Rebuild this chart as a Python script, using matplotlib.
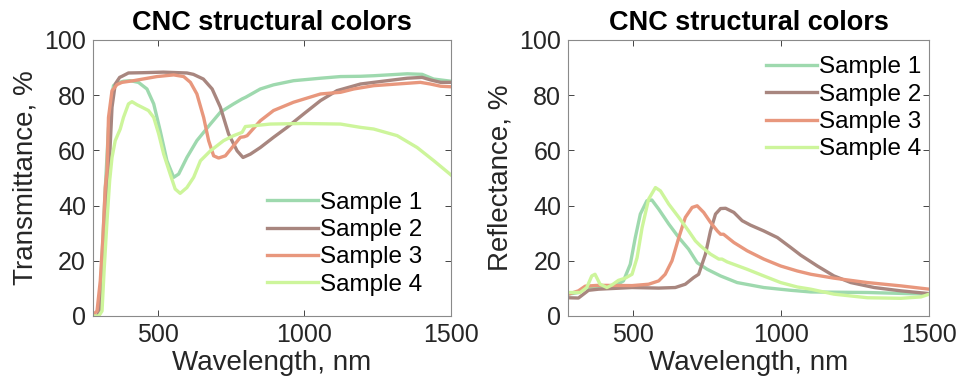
import numpy as np
import matplotlib.pyplot as plt

plt.rcParams['font.family'] = ['Liberation Sans', 'DejaVu Sans']

labels = ['Sample 1', 'Sample 2', 'Sample 3', 'Sample 4']
colors = ['#9ED9AE', '#A8867F', '#E8977D', '#CDF59B']

# Transmittance spectra (wavelength nm, %)
t1_wl = [282, 298, 305, 314, 322, 333, 345, 350, 362, 384, 407, 435, 464, 487, 509, 532, 555, 572,
         600, 634, 680, 714, 759, 788, 800, 850, 895, 963, 1055, 1123, 1191, 1236, 1350, 1401, 1440, 1500]
t1_val = [0, 0, 8, 28, 46, 68, 80, 83.4, 84.3, 85, 85.2, 84.6, 82.2, 76.8, 67.1, 56.2, 50.2, 51.4,
          57.4, 63.5, 69.5, 73.8, 76.8, 78.6, 79.2, 82.2, 83.7, 85.2, 86.1, 86.7, 86.8, 87, 87.7, 87.5, 85.8, 85]
t2_wl = [282, 298, 306, 316, 325, 333, 345, 356, 371, 379, 401, 450, 520, 600, 622, 656, 686, 714, 742,
         771, 791, 816, 850, 895, 941, 998, 1055, 1111, 1191, 1236, 1350, 1401, 1429, 1464, 1500]
t2_val = [0, 0, 5, 22, 38, 49, 75.6, 84, 86.4, 86.8, 88, 88.1, 88.3, 88, 87.5, 85.8, 82.2, 75.6, 65.9,
          59.8, 57.4, 58.6, 61, 64.7, 68.3, 73.2, 78, 81.6, 84, 84.6, 86.1, 86.4, 85.5, 84.6, 84.6]
t3_wl = [282, 294, 305, 314, 322, 328, 333, 345, 362, 379, 418, 498, 555, 589, 612, 634, 657, 674, 691,
         708, 731, 782, 795, 805, 850, 895, 963, 1055, 1123, 1168, 1236, 1395, 1429, 1464, 1500]
t3_val = [0.6, 1.8, 12.7, 28.4, 46.5, 52.6, 71.9, 81.6, 83.8, 84.6, 85.2, 86.7, 87.3, 86.7, 84.6, 80.4, 71.9,
          63.5, 58, 57.2, 58, 64.7, 64.9, 65.3, 70.7, 74.4, 77.4, 80.4, 81, 82.2, 83.4, 84.6, 84, 83.2, 83]
t4_wl = [282, 300, 311, 318, 328, 337, 345, 356, 373, 384, 401, 413, 430, 447, 469, 487, 504, 521, 543,
         560, 577, 600, 623, 646, 680, 725, 759, 788, 799, 884, 997, 1123, 1191, 1236, 1316, 1384, 1441, 1500]
t4_val = [0, 0, 1.8, 16.3, 34.5, 49, 57.4, 63.5, 67.7, 71.9, 76.8, 77.6, 76.5, 75.6, 74.4, 71.9, 65.9, 58.6, 51.4,
          46, 44.4, 46.5, 50.2, 56.2, 59.8, 63.5, 65.3, 66.5, 68.6, 69.5, 69.7, 69.5, 68.3, 67.7, 65.3, 61, 56.2, 51]

# Reflectance spectra (wavelength nm, %)
r1_wl = [281, 315, 338, 383, 439, 467, 490, 507, 524, 546, 563, 586, 620, 654, 687, 716, 750, 795,
         851, 941, 1032, 1100, 1291, 1500]
r1_val = [7.9, 8.5, 10, 10.3, 11, 12.7, 18.7, 28.4, 36.9, 41.7, 42, 38.7, 33.3, 28.4, 24.2, 19.3, 16.9, 14.5,
          12.1, 10.3, 9.3, 8.7, 8.5, 7.9]
r2_wl = [281, 315, 332, 349, 383, 496, 586, 642, 676, 704, 721, 744, 761, 778, 795, 812, 840, 868, 896,
         941, 987, 1032, 1066, 1122, 1178, 1235, 1314, 1404, 1500]
r2_val = [6.6, 6.5, 7.9, 9.3, 9.7, 10.3, 10.1, 10.3, 11.5, 13.9, 15.1, 22.4, 30.8, 36.9, 38.9, 39, 37.5, 34.5, 32.9,
          30.8, 28.4, 24.8, 22, 18.1, 14.5, 12.1, 10.3, 9.1, 8.1]
r3_wl = [281, 315, 338, 383, 496, 552, 586, 608, 631, 654, 676, 699, 716, 738, 761, 784, 795, 805, 840,
         885, 941, 998, 1054, 1100, 1178, 1291, 1404, 1500]
r3_val = [7.9, 9.1, 10.8, 11.1, 11, 11.5, 12.7, 15.1, 20, 28.4, 35.7, 39.3, 39.9, 37.5, 33.9, 30.8, 29.6, 29.6, 26.6,
          23.6, 20.6, 18.1, 16.3, 15.1, 13.7, 12.1, 10.9, 9.7]
r4_wl = [281, 321, 343, 360, 371, 388, 411, 428, 450, 473, 496, 513, 530, 552, 575, 592, 620, 654, 687,
         710, 727, 761, 789, 800, 817, 885, 941, 998, 1054, 1100, 1178, 1291, 1404, 1472, 1500]
r4_val = [8.5, 8.5, 10.3, 14.5, 15.1, 11.5, 10.3, 11.2, 12.9, 13.7, 15.1, 21.1, 32, 42.3, 46.5, 45.3, 40.5, 35.7, 30.8,
          27.2, 25.4, 22.4, 20.6, 20.6, 19.6, 16.9, 14.5, 12.1, 10.5, 9.7, 7.9, 6.6, 6.4, 6.9, 7.9]

trans = [(t1_wl, t1_val), (t2_wl, t2_val), (t3_wl, t3_val), (t4_wl, t4_val)]
refl = [(r1_wl, r1_val), (r2_wl, r2_val), (r3_wl, r3_val), (r4_wl, r4_val)]

fig = plt.figure(figsize=(9.58, 3.83), dpi=100)
ax1 = fig.add_axes([0.097, 0.175, 0.374, 0.721])
ax2 = fig.add_axes([0.593, 0.175, 0.377, 0.721])

for ax, data, ylab, anchor in [(ax1, trans, 'Transmittance, %', (0.485, 0.45)),
                               (ax2, refl, 'Reflectance, %', (0.547, 0.94))]:
    for (wl, val), c, lab in zip(data, colors, labels):
        ax.plot(wl, val, color=c, lw=2.4, label=lab, solid_joinstyle='round')
    ax.set_xlim(280, 1500)
    ax.set_ylim(0, 100)
    ax.set_xticks([500, 1000, 1500])
    ax.set_yticks(range(0, 101, 20))
    ax.set_title('CNC structural colors', fontsize=19.5, fontweight='bold', pad=7)
    ax.set_xlabel('Wavelength, nm', fontsize=20, color='#262626', labelpad=2)
    ax.set_ylabel(ylab, fontsize=20, color='#262626', labelpad=4)
    ax.tick_params(direction='in', top=True, right=True, labelsize=18,
                   colors='#262626', length=4, width=0.6, pad=5)
    for s in ax.spines.values():
        s.set_color('#8a8a8a')
        s.set_linewidth(0.8)
    ax.legend(loc='upper left', bbox_to_anchor=anchor, frameon=False, fontsize=17.5,
              handlelength=2.1, handletextpad=0.1, labelspacing=0.22, borderpad=0,
              borderaxespad=0)

fig.savefig('out.png', dpi=100)
